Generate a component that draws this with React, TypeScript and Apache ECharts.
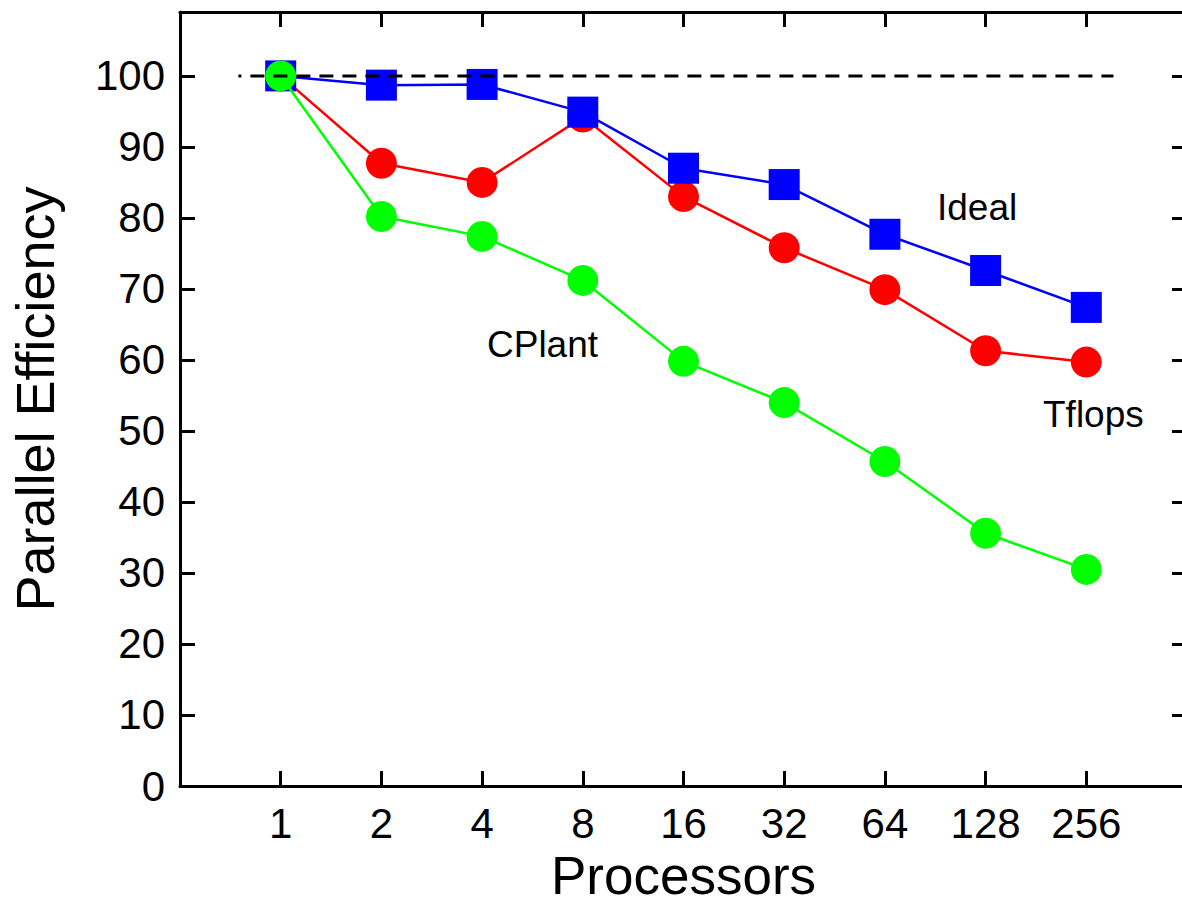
import React, { useEffect, useRef } from "react";
import * as echarts from "echarts";

const processors = ["1", "2", "4", "8", "16", "32", "64", "128", "256"];
const blueValues = [100, 98.7, 98.8, 94.9, 87.0, 84.7, 77.7, 72.6, 67.4];
const redValues = [100, 87.7, 85.0, 94.2, 83.0, 75.8, 69.9, 61.3, 59.7];
const greenValues = [100, 80.2, 77.4, 71.2, 59.8, 54.0, 45.7, 35.6, 30.5];
const idealX = [0.58, 9.27];
const idealY = [100, 100];
const yTicks = [0, 10, 20, 30, 40, 50, 60, 70, 80, 90, 100];

const FONT = "'Liberation Sans', Arial, Helvetica, sans-serif";

export default function App() {
  const ref = useRef<HTMLDivElement>(null);
  useEffect(() => {
    if (!ref.current) return;
    const chart = echarts.init(ref.current, null, { renderer: "svg" });
    const toXY = (vals: number[]) => vals.map((v, i) => [i + 1, v]);
    const mkLine = () => ({ show: true, onZero: false, lineStyle: { color: "#000", width: 3 } });
    const mkTick = () => ({ show: true, inside: true, length: 15, lineStyle: { color: "#000", width: 3 } });
    chart.setOption({
      animation: false,
      backgroundColor: "#fff",
      grid: {
        left: 180,
        top: 12,
        width: 1007,
        height: 774,
        containLabel: false,
        outerBoundsMode: "none",
      },
      xAxis: [
        {
          type: "value",
          position: "bottom",
          min: 0,
          max: 10,
          interval: 1,
          axisLine: mkLine(),
          axisTick: mkTick(),
          splitLine: { show: false },
          axisLabel: {
            color: "#000",
            fontFamily: FONT,
            fontSize: 42,
            margin: 16,
            formatter: (v: number) => (v >= 1 && v <= processors.length ? processors[v - 1] : ""),
          },
          name: "Processors",
          nameLocation: "middle",
          nameGap: 58,
          nameTextStyle: { color: "#000", fontFamily: FONT, fontSize: 53, lineHeight: 50 },
        },
        {
          type: "value",
          position: "top",
          min: 0,
          max: 10,
          interval: 1,
          axisLine: mkLine(),
          axisTick: mkTick(),
          splitLine: { show: false },
          axisLabel: { show: false },
        },
      ],
      yAxis: [
        {
          type: "value",
          position: "left",
          min: 0,
          max: 109,
          interval: 10,
          axisLine: mkLine(),
          axisTick: mkTick(),
          splitLine: { show: false },
          axisLabel: {
            color: "#000",
            fontFamily: FONT,
            fontSize: 42,
            margin: 15,
            formatter: (v: number) => (yTicks.indexOf(v) >= 0 ? String(v) : ""),
          },
          name: "Parallel Efficiency",
          nameLocation: "middle",
          nameGap: 118,
          nameTextStyle: { color: "#000", fontFamily: FONT, fontSize: 54 },
        },
        {
          type: "value",
          position: "right",
          min: 0,
          max: 109,
          interval: 10,
          axisLine: mkLine(),
          axisTick: mkTick(),
          splitLine: { show: false },
          axisLabel: { show: false },
        },
      ],
      series: [
        {
          name: "Tflops",
          type: "line",
          data: toXY(redValues),
          symbol: "circle",
          symbolSize: 31,
          z: 2,
          lineStyle: { color: "#ff0000", width: 2.5 },
          itemStyle: { color: "#ff0000" },
        },
        {
          name: "Ideal",
          type: "line",
          data: toXY(blueValues),
          symbol: "rect",
          symbolSize: 31,
          z: 3,
          lineStyle: { color: "#0000ff", width: 2.5 },
          itemStyle: { color: "#0000ff" },
        },
        {
          name: "CPlant",
          type: "line",
          data: toXY(greenValues),
          symbol: "circle",
          symbolSize: 31,
          z: 4,
          lineStyle: { color: "#00ff00", width: 2.5 },
          itemStyle: { color: "#00ff00" },
        },
        {
          name: "Reference",
          type: "line",
          data: idealX.map((x, i) => [x, idealY[i]]),
          symbol: "none",
          z: 5,
          lineStyle: { color: "#000", width: 3, type: [14, 9], dashOffset: 11, cap: "butt" },
        },
      ],
      graphic: [
        {
          type: "text",
          x: 937,
          y: 207,
          z: 10,
          style: { text: "Ideal", fill: "#000", font: `37px ${FONT}`, textVerticalAlign: "middle" },
        },
        {
          type: "text",
          x: 487,
          y: 344,
          z: 10,
          style: { text: "CPlant", fill: "#000", font: `37px ${FONT}`, textVerticalAlign: "middle" },
        },
        {
          type: "text",
          x: 1043,
          y: 414,
          z: 10,
          style: { text: "Tflops", fill: "#000", font: `37px ${FONT}`, textVerticalAlign: "middle" },
        },
      ],
    });
    return () => chart.dispose();
  }, []);
  return (
    <div
      ref={ref}
      style={{ position: "fixed", left: 0, top: 0, width: 1182, height: 901, background: "#fff" }}
    />
  );
}
